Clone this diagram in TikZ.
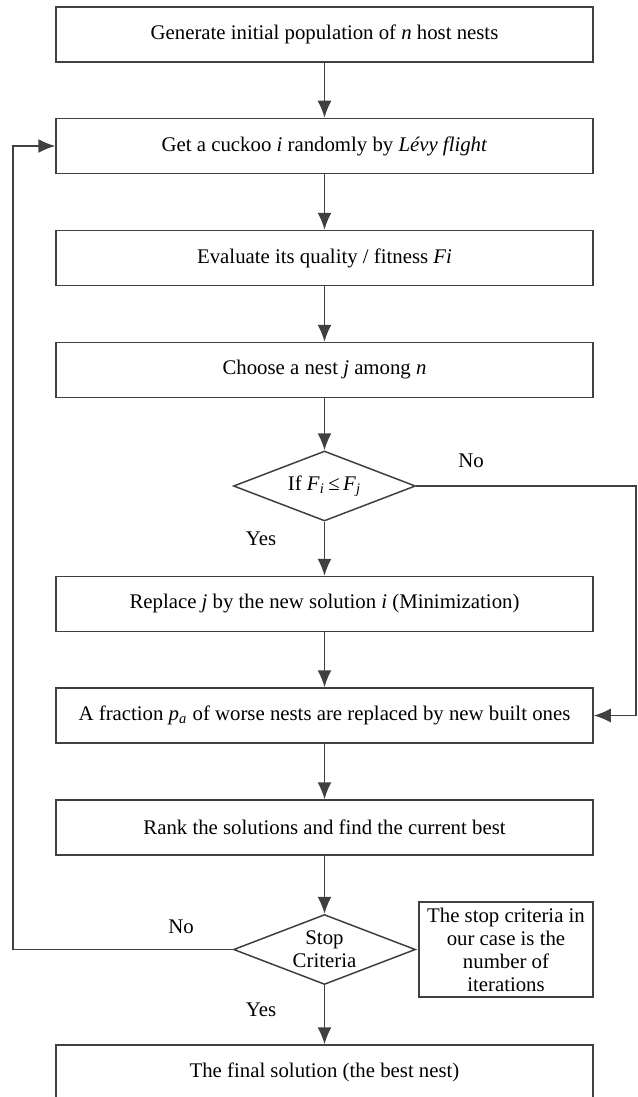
\documentclass[tikz,border=0pt]{standalone}
\usepackage{fontspec}
\setmainfont{Liberation Serif}
\usepackage{tikz}
\usetikzlibrary{arrows.meta,positioning,calc,shapes.geometric}
\definecolor{linegray}{HTML}{404040}
\tikzset{>={Latex[length=8.5pt,width=7pt]}}
\tikzset{
    stepbox/.style={draw=linegray, line width=0.75pt, rectangle, minimum width=268.5pt, minimum height=27.5pt, inner sep=0pt},
    decision/.style={draw=linegray, line width=0.75pt, diamond, aspect=2.6, minimum width=91pt, minimum height=35pt, inner sep=0pt, align=center},
    notebox/.style={draw=linegray, line width=0.75pt, rectangle, minimum width=87pt, minimum height=47.5pt, inner sep=0pt, align=center},
    flow/.style={->, draw=linegray, line width=0.75pt},
    tag/.style={inner sep=0pt}
}

\begin{document}
\begin{tikzpicture}[x=0.5pt, y=-0.5pt, font=\fontsize{10.4}{11.5}\selectfont]
    \useasboundingbox (0,0) rectangle (637,1097);

    \node[stepbox] (init) at (324.5, 34.5) {Generate initial population of \textit{n} host nests};
    \node[stepbox] (levy) at (324.5, 146) {Get a cuckoo \textit{i} randomly by \textit{Lévy flight}};
    \node[stepbox] (eval) at (324.5, 258) {Evaluate its quality / fitness \textit{Fi}};
    \node[stepbox] (choose) at (324.5, 370) {Choose a nest \textit{j} among \textit{n}};
    \node[decision] (cmp) at (324.5, 486) {If \textit{F}\textsubscript{\textit{i}}\,≤\,\textit{F}\textsubscript{\textit{j}}}; % compare fitness
    \node[stepbox] (replace) at (324.5, 604) {Replace \textit{j} by the new solution \textit{i} (Minimization)};
    \node[stepbox] (abandon) at (324.5, 715.5) {A fraction \textit{p}\textsubscript{\textit{a}} of worse nests are replaced by new built ones};
    \node[stepbox] (rank) at (324.5, 827.5) {Rank the solutions and find the current best};
    \node[decision] (stop) at (324.5, 949.5) {Stop\\Criteria}; % stop test
    \node[notebox] (note) at (506, 949.5) {The stop criteria in\\our case is the\\number of\\iterations};
    \node[stepbox] (final) at (324.5, 1072.5) {The final solution (the best nest)}; % cut by the page edge

    \coordinate (rline) at (636, 0);
    \coordinate (lline) at (13, 0);

    \draw[flow] (init) -- (levy);
    \draw[flow] (levy) -- (eval);
    \draw[flow] (eval) -- (choose);
    \draw[flow] (choose) -- (cmp);
    \draw[flow] (cmp) -- (replace);
    \draw[flow] (replace) -- (abandon);
    \draw[flow] (abandon) -- (rank);
    \draw[flow] (rank) -- (stop);
    \draw[flow] (stop) -- (final);
    \draw[flow] (cmp.east) -- (cmp.east -| rline) |- (abandon.east); % No branch
    \draw[flow] (stop.west) -- (stop.west -| lline) |- (levy.west); % back to next cuckoo

    \node[tag] (no1) at (471, 461) {No};
    \node[tag] (yes1) at (261, 539) {Yes};
    \node[tag] (no2) at (181, 927) {No};
    \node[tag] (yes2) at (261, 1010) {Yes};
\end{tikzpicture}
\end{document}
